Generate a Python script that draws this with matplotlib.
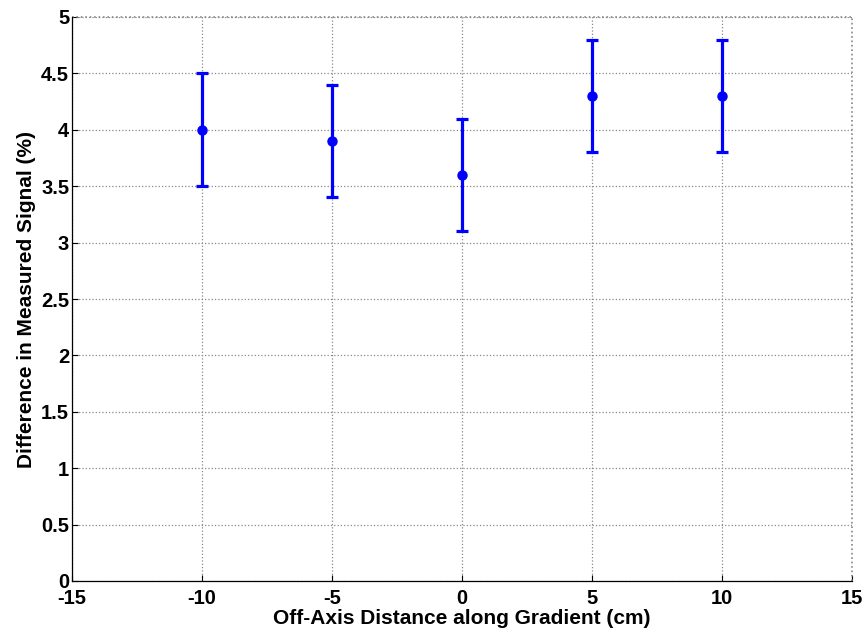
import numpy as np
import matplotlib.pyplot as plt

plt.rcParams['font.family'] = ['Liberation Sans', 'DejaVu Sans']
plt.rcParams['font.weight'] = 'bold'
plt.rcParams['axes.unicode_minus'] = False

# data
distance = [-10, -5, 0, 5, 10]
signal_diff = [4.0, 3.9, 3.6, 4.3, 4.3]
err = [0.5, 0.5, 0.5, 0.5, 0.5]

fig = plt.figure(figsize=(8.65, 6.3), dpi=100)
ax = fig.add_axes([72/865, 1-581/630, 780/865, 564/630])

ax.errorbar(distance, signal_diff, yerr=err, fmt='o', color='#0000ff',
            ecolor='#0000ff', elinewidth=2.3, capsize=4, capthick=2.3,
            markersize=6.5, zorder=3)

ax.set_xlim(-15, 15)
ax.set_ylim(0, 5)
ax.set_xticks(np.arange(-15, 16, 5))
ax.set_yticks(np.arange(0, 5.01, 0.5))
ax.set_yticklabels(['0', '0.5', '1', '1.5', '2', '2.5', '3', '3.5', '4', '4.5', '5'])

ax.grid(True, linestyle=':', color='#888888', linewidth=0.9)
ax.spines['top'].set_visible(False)
ax.spines['right'].set_visible(False)
for s in ['left', 'bottom']:
    ax.spines[s].set_linewidth(0.9)
# dotted lines at top/right edges like MATLAB grid
ax.axhline(5, color='#888888', linestyle=':', linewidth=1.2, clip_on=False)
ax.axvline(15, color='#888888', linestyle=':', linewidth=1.2, clip_on=False)

ax.tick_params(direction='in', length=4, width=0.8, labelsize=14.5)
ax.tick_params(axis='x', pad=6)
ax.tick_params(axis='y', pad=2)
for lbl in ax.get_xticklabels() + ax.get_yticklabels():
    lbl.set_fontweight('bold')

ax.set_xlabel('Off-Axis Distance along Gradient (cm)', fontsize=15, fontweight='bold', labelpad=0.5)
ax.set_ylabel('Difference in Measured Signal (%)', fontsize=15, fontweight='bold', labelpad=4)

fig.savefig('out.png', dpi=100)
